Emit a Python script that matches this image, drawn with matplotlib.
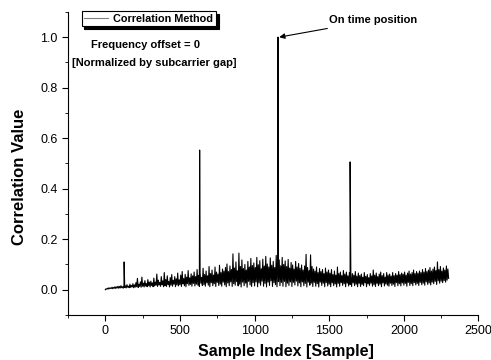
import numpy as np
import matplotlib
matplotlib.use("Agg")
import matplotlib.pyplot as plt
from matplotlib.ticker import MultipleLocator

plt.rcParams['font.family'] = ['Liberation Sans', 'DejaVu Sans']

# correlation floor, read every 5 samples (low / high alternation of the noisy band)
noise_step = 5
noise = [
    0.000, 0.004, 0.002, 0.006, 0.003, 0.008, 0.004, 0.007, 0.005, 0.010, 0.004, 0.009, 0.006, 0.012, 0.005, 0.011, 0.007, 0.014, 0.006, 0.013,
    0.007, 0.016, 0.008, 0.012, 0.006, 0.018, 0.009, 0.015, 0.007, 0.020, 0.010, 0.014, 0.008, 0.022, 0.009, 0.017, 0.011, 0.024, 0.008, 0.019,
    0.010, 0.028, 0.012, 0.045, 0.009, 0.022, 0.013, 0.031, 0.010, 0.050, 0.014, 0.026, 0.011, 0.036, 0.015, 0.024, 0.012, 0.040, 0.016, 0.030,
    0.011, 0.034, 0.017, 0.027, 0.012, 0.046, 0.015, 0.030, 0.018, 0.062, 0.013, 0.038, 0.019, 0.029, 0.014, 0.052, 0.020, 0.035, 0.012, 0.068,
    0.016, 0.040, 0.013, 0.055, 0.021, 0.033, 0.011, 0.048, 0.018, 0.060, 0.014, 0.037, 0.022, 0.052, 0.012, 0.043, 0.019, 0.066, 0.015, 0.039,
    0.020, 0.058, 0.013, 0.072, 0.023, 0.044, 0.016, 0.061, 0.012, 0.050, 0.024, 0.076, 0.017, 0.047, 0.021, 0.063, 0.014, 0.055, 0.025, 0.070,
    0.015, 0.052, 0.022, 0.080, 0.018, 0.057, 0.013, 0.066, 0.026, 0.049, 0.017, 0.085, 0.020, 0.060, 0.014, 0.074, 0.027, 0.055, 0.018, 0.092,
    0.012, 0.064, 0.028, 0.078, 0.016, 0.058, 0.024, 0.090, 0.013, 0.070, 0.029, 0.062, 0.017, 0.097, 0.022, 0.068, 0.014, 0.082, 0.030, 0.074,
    0.019, 0.088, 0.012, 0.102, 0.027, 0.072, 0.016, 0.094, 0.031, 0.080, 0.013, 0.142, 0.024, 0.086, 0.018, 0.110, 0.032, 0.075, 0.015, 0.145,
    0.022, 0.092, 0.011, 0.118, 0.030, 0.084, 0.016, 0.100, 0.026, 0.078, 0.010, 0.112, 0.033, 0.090, 0.019, 0.124, 0.013, 0.096, 0.028, 0.106,
    0.015, 0.088, 0.031, 0.128, 0.012, 0.099, 0.027, 0.115, 0.018, 0.083, 0.034, 0.121, 0.014, 0.094, 0.025, 0.132, 0.011, 0.102, 0.030, 0.090,
    0.017, 0.126, 0.035, 0.097, 0.013, 0.112, 0.028, 0.088, 0.020, 0.136, 0.012, 0.104, 0.032, 0.118, 0.016, 0.095, 0.029, 0.128, 0.014, 0.100,
    0.033, 0.114, 0.012, 0.092, 0.026, 0.120, 0.017, 0.086, 0.031, 0.108, 0.013, 0.098, 0.029, 0.082, 0.019, 0.112, 0.034, 0.090, 0.015, 0.104,
    0.027, 0.085, 0.012, 0.098, 0.031, 0.078, 0.016, 0.094, 0.025, 0.140, 0.011, 0.088, 0.030, 0.076, 0.018, 0.138, 0.026, 0.092, 0.013, 0.082,
    0.029, 0.074, 0.014, 0.090, 0.024, 0.068, 0.011, 0.084, 0.030, 0.072, 0.017, 0.080, 0.026, 0.064, 0.012, 0.086, 0.028, 0.070, 0.015, 0.078,
    0.022, 0.066, 0.012, 0.080, 0.027, 0.060, 0.016, 0.074, 0.023, 0.058, 0.011, 0.090, 0.025, 0.064, 0.014, 0.070, 0.028, 0.056, 0.017, 0.076,
    0.024, 0.062, 0.012, 0.070, 0.026, 0.055, 0.015, 0.068, 0.021, 0.052, 0.013, 0.064, 0.027, 0.058, 0.016, 0.072, 0.022, 0.054, 0.012, 0.066,
    0.025, 0.056, 0.013, 0.062, 0.021, 0.050, 0.016, 0.068, 0.027, 0.053, 0.012, 0.060, 0.023, 0.048, 0.017, 0.064, 0.026, 0.055, 0.014, 0.078,
    0.020, 0.058, 0.013, 0.066, 0.025, 0.052, 0.016, 0.062, 0.022, 0.070, 0.012, 0.056, 0.027, 0.064, 0.015, 0.050, 0.023, 0.068, 0.018, 0.058,
    0.014, 0.062, 0.026, 0.054, 0.017, 0.068, 0.022, 0.056, 0.013, 0.064, 0.028, 0.058, 0.016, 0.072, 0.024, 0.060, 0.015, 0.066, 0.027, 0.062,
    0.018, 0.070, 0.025, 0.058, 0.014, 0.066, 0.029, 0.074, 0.017, 0.062, 0.024, 0.068, 0.016, 0.078, 0.028, 0.064, 0.019, 0.072, 0.025, 0.066,
    0.017, 0.074, 0.029, 0.068, 0.020, 0.080, 0.026, 0.070, 0.018, 0.084, 0.031, 0.072, 0.021, 0.078, 0.027, 0.088, 0.019, 0.074, 0.030, 0.082,
    0.024, 0.090, 0.033, 0.076, 0.021, 0.110, 0.035, 0.080, 0.026, 0.092, 0.034, 0.074, 0.028, 0.086, 0.036, 0.078, 0.030, 0.094, 0.038, 0.082,
    0.045,
]

# isolated correlation peaks
peak_samples = [126, 632, 1157, 1640]
peak_values = [0.11, 0.553, 1.0, 0.506]

x = np.concatenate([np.arange(len(noise)) * noise_step, peak_samples])
y = np.concatenate([noise, peak_values])
order = np.argsort(x, kind='stable')
x, y = x[order], y[order]

fig = plt.figure(figsize=(4.91, 3.6), dpi=100)
ax = fig.add_axes([0.1385, 0.125, 0.836, 0.842])

ax.plot(x, y, color='black', lw=0.8, label='Correlation Method')

ax.set_xlim(-250, 2500)
ax.set_ylim(-0.1, 1.1)
ax.xaxis.set_major_locator(MultipleLocator(500))
ax.xaxis.set_minor_locator(MultipleLocator(250))
ax.yaxis.set_major_locator(MultipleLocator(0.2))
ax.yaxis.set_minor_locator(MultipleLocator(0.1))
ax.set_yticks([0.0, 0.2, 0.4, 0.6, 0.8, 1.0])
ax.tick_params(which='both', direction='out', labelsize=9)
ax.tick_params(which='major', length=4)
ax.tick_params(which='minor', length=2)
ax.spines['top'].set_visible(False)
ax.spines['right'].set_visible(False)

ax.set_xlabel('Sample Index [Sample]', fontsize=11.5, fontweight='bold')
ax.set_ylabel('Correlation Value', fontsize=12, fontweight='bold')
ax.xaxis.set_label_coords(0.53, -0.095)
ax.yaxis.set_label_coords(-0.1, 0.455)

leg = ax.legend(loc='upper left', bbox_to_anchor=(0.155, 0.985),
                bbox_transform=fig.transFigure, frameon=True,
                fancybox=False, shadow={'color': 'black', 'alpha': 1},
                handlelength=2.2, borderpad=0.25, handletextpad=0.5,
                prop={'weight': 'bold', 'size': 7.8})
leg.get_frame().set_edgecolor('black')
leg.get_frame().set_linewidth(0.8)
leg.get_lines()[0].set_color('gray')

ax.text(266, 0.968, 'Frequency offset = 0', ha='center', va='center',
        fontsize=8, fontweight='bold')
ax.text(326, 0.896, '[Normalized by subcarrier gap]', ha='center', va='center',
        fontsize=8, fontweight='bold')

ax.annotate('On time position', xy=(1165, 1.0), xytext=(1500, 1.067),
            fontsize=8, fontweight='bold', va='center',
            arrowprops=dict(arrowstyle='-|>', color='black', lw=0.8,
                            shrinkA=2, shrinkB=0, mutation_scale=8))

fig.savefig('out.png', dpi=100)
